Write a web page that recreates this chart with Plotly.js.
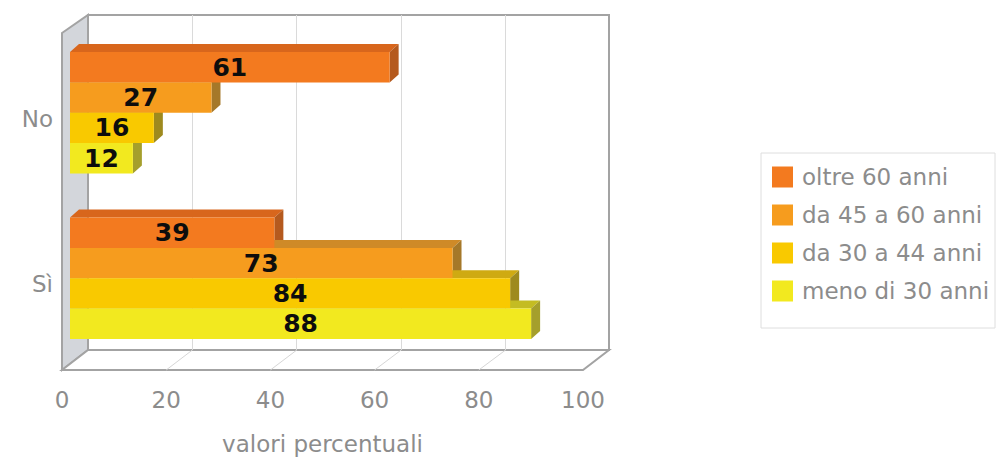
<!DOCTYPE html>
<html>
<head>
<meta charset="utf-8">
<script src="https://cdn.plot.ly/plotly-3.0.1.min.js"></script>
<style>
  html, body { margin: 0; padding: 0; background: #ffffff; }
  #chart { width: 996px; height: 465px; }
</style>
</head>
<body>
<div id="chart"></div>
<script>
// Risposte per fascia d'età (valori percentuali)
const categories = ['No', 'Sì'];
const seriesNames = ['oltre 60 anni', 'da 45 a 60 anni', 'da 30 a 44 anni', 'meno di 30 anni'];
const over60 = [61, 39];
const from45to60 = [27, 73];
const from30to44 = [16, 84];
const under30 = [12, 88];
const xTicks = [0, 20, 40, 60, 80, 100];
const gridTicks = [20, 40, 60, 80];

const seriesValues = [over60, from45to60, from30to44, under30];

// front / top / side colours for each series
const frontColors = ['#F37A1F', '#F69C1E', '#F9C900', '#F2E91F'];
const topColors   = ['#D8661C', '#CF8A27', '#CFAA12', '#C4BC22'];
const sideColors  = ['#B55A1E', '#A57829', '#9E8A1E', '#A59F2C'];

// ---- frame geometry (pixels) ----
const W = 996, H = 465;
const PL = 62, PR = 610, PT = 15, PB = 370;          // paper box
const PW = PR - PL, PH = PB - PT;
const fx = p => (p - PL) / PW;
const fy = p => (PB - p) / PH;

const BACK_L = 88, BACK_B = 350;                     // back wall
const FRONT_R = 583;                                 // front edge of floor
const BAR_L = 70, BAR_R = 594, BAR_T = 30, BAR_B = 361;  // bar plotting area
const GAP = 0.266;
const DEPTH_X = 9, DEPTH_Y = 8;                      // bar depth in px

const pxPerX = (BAR_R - BAR_L) / 100;
const pxPerY = (BAR_B - BAR_T) / 2;
const dX = DEPTH_X / pxPerX;
const dY = DEPTH_Y / pxPerY;

const font = 'DejaVu Sans, Verdana, sans-serif';
const grey = '#8c8c8c';

// ---- traces ----
const traces = [];
// empty traces so that the wall and label axes get their own subplots
traces.push({ type: 'scatter', x: [], y: [], xaxis: 'x', yaxis: 'y', showlegend: false, hoverinfo: 'skip' });

seriesValues.forEach((vals, i) => {
  traces.push({
    type: 'bar',
    orientation: 'h',
    name: seriesNames[i],
    x: vals,
    y: categories,
    xaxis: 'x2',
    yaxis: 'y2',
    marker: { color: frontColors[i], line: { width: 0 } },
    text: vals.map(String),
    textposition: 'inside',
    insidetextanchor: 'middle',
    constraintext: 'none',
    textfont: { family: font, size: 25, color: '#0d0d0d', weight: 'bold' },
    hoverinfo: 'x+name'
  });
});

traces.push({ type: 'scatter', x: [], y: [], xaxis: 'x3', yaxis: 'y3', showlegend: false, hoverinfo: 'skip' });

// ---- shapes: walls, floor and bar depth faces ----
const shapes = [];
const pathP = pts => 'M' + pts.map(p => fx(p[0]).toFixed(5) + ',' + fy(p[1]).toFixed(5)).join('L') + 'Z';

// back wall
shapes.push({ type: 'path', xref: 'paper', yref: 'paper', layer: 'below',
  path: pathP([[BACK_L, PT], [PR - 1, PT], [PR - 1, BACK_B], [BACK_L, BACK_B]]),
  fillcolor: '#ffffff', line: { color: '#a3a3a3', width: 2 } });
// left wall
shapes.push({ type: 'path', xref: 'paper', yref: 'paper', layer: 'below',
  path: pathP([[PL, 33], [BACK_L, PT], [BACK_L, BACK_B], [PL, PB]]),
  fillcolor: '#d3d6db', line: { color: '#a3a3a3', width: 2 } });
// floor
shapes.push({ type: 'path', xref: 'paper', yref: 'paper', layer: 'below',
  path: pathP([[PL, PB], [BACK_L, BACK_B], [PR - 1, BACK_B], [FRONT_R, PB]]),
  fillcolor: '#ffffff', line: { color: '#a3a3a3', width: 2 } });
// floor grid lines, from back-wall ticks to front-edge ticks
const backPx = v => BACK_L + v * (PR - BACK_L) / 100;
const frontPx = v => PL + v * (FRONT_R - PL) / 100;
gridTicks.forEach(v => {
  shapes.push({ type: 'line', xref: 'paper', yref: 'paper', layer: 'below',
    x0: fx(backPx(v)), y0: fy(BACK_B), x1: fx(frontPx(v)), y1: fy(PB),
    line: { color: '#d6d6d6', width: 1 } });
});

// depth faces of each bar (drawn under the front faces)
const groupW = 1 - GAP;
const barW = groupW / seriesValues.length;
seriesValues.forEach((vals, i) => {
  vals.forEach((v, c) => {
    const yt = c - groupW / 2 + barW * i;
    const yb = yt + barW;
    shapes.push({ type: 'path', xref: 'x2', yref: 'y2', layer: 'between',
      path: `M0,${yt} L${dX},${yt - dY} L${v + dX},${yt - dY} L${v},${yt} Z`,
      fillcolor: topColors[i], line: { width: 0 } });
    shapes.push({ type: 'path', xref: 'x2', yref: 'y2', layer: 'between',
      path: `M${v},${yt} L${v + dX},${yt - dY} L${v + dX},${yb - dY} L${v},${yb} Z`,
      fillcolor: sideColors[i], line: { width: 0 } });
  });
});

// ---- legend box ----
const LEG_L = 761, LEG_T = 153, LEG_R = 995, LEG_B = 328;
const ROW0 = 177, ROW_STEP = 38, SW = 21, SW_L = 772, TXT_L = 800;
shapes.push({ type: 'rect', xref: 'paper', yref: 'paper', layer: 'above',
  x0: fx(LEG_L), x1: fx(LEG_R), y0: fy(LEG_B), y1: fy(LEG_T),
  fillcolor: 'rgba(0,0,0,0)', line: { color: '#dedede', width: 1 } });
const annotations = [];
seriesNames.forEach((name, i) => {
  const cy = ROW0 + i * ROW_STEP;
  shapes.push({ type: 'rect', xref: 'paper', yref: 'paper', layer: 'above',
    x0: fx(SW_L), x1: fx(SW_L + SW), y0: fy(cy + SW / 2), y1: fy(cy - SW / 2),
    fillcolor: frontColors[i], line: { width: 0 } });
  annotations.push({ xref: 'paper', yref: 'paper', x: fx(TXT_L), y: fy(cy),
    xanchor: 'left', yanchor: 'middle', showarrow: false, text: name,
    font: { family: font, size: 23, color: grey } });
});

const layout = {
  width: W, height: H,
  margin: { l: PL, r: W - PR, t: PT, b: H - PB, pad: 0 },
  paper_bgcolor: '#ffffff',
  plot_bgcolor: 'rgba(0,0,0,0)',
  showlegend: false,
  barmode: 'group',
  bargap: GAP,
  bargroupgap: 0,
  font: { family: font, size: 23, color: grey },
  // back-wall grid
  xaxis: { domain: [fx(BACK_L), 1], range: [0, 100], anchor: 'y', tickvals: gridTicks,
           showgrid: true, gridcolor: '#dadada', gridwidth: 1, showticklabels: false,
           zeroline: false, showline: false, ticks: '', fixedrange: true },
  yaxis: { domain: [fy(BACK_B), 1], range: [0, 1], anchor: 'x', showgrid: false,
           showticklabels: false, zeroline: false, showline: false, ticks: '', fixedrange: true },
  // bars
  xaxis2: { domain: [fx(BAR_L), fx(BAR_R)], range: [0, 100], anchor: 'y2', showgrid: false,
            showticklabels: false, zeroline: false, showline: false, ticks: '', fixedrange: true },
  yaxis2: { domain: [fy(BAR_B), fy(BAR_T)], type: 'category', categoryorder: 'array',
            categoryarray: categories, range: [1.5, -0.5], anchor: 'x2',
            showgrid: false, zeroline: false, showline: false, ticks: '',
            tickfont: { family: font, size: 23, color: grey },
            ticklabelstandoff: 16, ticklabelshift: -6, fixedrange: true },
  // front-edge value labels
  xaxis3: { domain: [0, fx(FRONT_R)], range: [0, 100], anchor: 'y3', tickvals: xTicks,
            showgrid: false, zeroline: false, showline: false, ticks: '',
            tickfont: { family: font, size: 23, color: grey }, ticklabelstandoff: 14,
            title: { text: 'valori percentuali', font: { family: font, size: 23, color: grey }, standoff: 23 },
            fixedrange: true },
  yaxis3: { domain: [0, 1], range: [0, 1], anchor: 'x3', visible: false, fixedrange: true },
  shapes: shapes,
  annotations: annotations
};

Plotly.newPlot('chart', traces, layout, { displayModeBar: false, staticPlot: true });
</script>
</body>
</html>
